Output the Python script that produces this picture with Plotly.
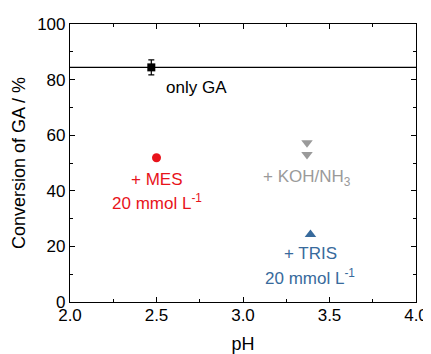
import plotly.graph_objects as go

# data
ga_ph = [2.47]
ga_conv = [84.4]
ga_err = [2.7]
ga_ref_level = 84.4
mes_ph = [2.5]
mes_conv = [51.9]
koh_ph = [3.37, 3.37]
koh_conv = [57.3, 53.1]
tris_ph = [3.39]
tris_conv = [24.3]
x_range = [2.0, 4.0]
y_range = [0, 100]
x_ticks = [2.0, 2.5, 3.0, 3.5, 4.0]
x_ticklabels = ["2.0", "2.5", "3.0", "3.5", "4.0"]
y_ticks = [0, 20, 40, 60, 80, 100]

RED = "#e8131b"
GRAY = "#9a9a9a"
BLUE = "#386a9c"
FONT = "Liberation Sans, Arial, sans-serif"

fig = go.Figure()
fig.add_trace(go.Scatter(x=x_range, y=[ga_ref_level, ga_ref_level], mode="lines",
                         line=dict(color="black", width=1.2), showlegend=False, hoverinfo="skip"))
fig.add_trace(go.Scatter(x=ga_ph, y=ga_conv, mode="markers",
                         marker=dict(symbol="square", size=8, color="black"),
                         error_y=dict(type="data", array=ga_err, color="black", thickness=1.2, width=3),
                         showlegend=False))
fig.add_trace(go.Scatter(x=mes_ph, y=mes_conv, mode="markers",
                         marker=dict(symbol="circle", size=9, color=RED), showlegend=False))
fig.add_trace(go.Scatter(x=koh_ph, y=koh_conv, mode="markers",
                         marker=dict(symbol="triangle-down", size=10, color=GRAY), showlegend=False))
fig.add_trace(go.Scatter(x=tris_ph, y=tris_conv, mode="markers",
                         marker=dict(symbol="triangle-up", size=10, color=BLUE), showlegend=False))

ann = [
    (2.73, 77.0, "only GA", "black"),
    (2.5, 44.0, "+ MES", RED),
    (2.5, 36.1, "20 mmol L<sup>-1</sup>", RED),
    (3.37, 44.7, "+ KOH/NH<sub>3</sub>", GRAY),
    (3.39, 17.3, "+ TRIS", BLUE),
    (3.39, 9.0, "20 mmol L<sup>-1</sup>", BLUE),
]
for x, y, t, c in ann:
    fig.add_annotation(x=x, y=y, text=t, showarrow=False,
                       font=dict(family=FONT, size=17, color=c))

axis_common = dict(showline=True, linecolor="black", linewidth=1.2, mirror="ticks",
                   ticks="inside", ticklen=5, tickwidth=1, tickcolor="black",
                   showgrid=False, zeroline=False, automargin=False,
                   tickfont=dict(family=FONT, size=17, color="black"))
fig.update_xaxes(range=x_range, tickvals=x_ticks, ticktext=x_ticklabels,
                 ticklabelstandoff=-3,
                 minor=dict(ticks="inside", ticklen=3, dtick=0.25, tickcolor="black"),
                 title=dict(text="pH", font=dict(family=FONT, size=18, color="black"), standoff=14),
                 **axis_common)
fig.update_yaxes(range=y_range, tickvals=y_ticks,
                 minor=dict(ticks="inside", ticklen=3, dtick=10, tickcolor="black"),
                 title=dict(text="Conversion of GA / %", font=dict(family=FONT, size=18, color="black"), standoff=6),
                 **axis_common)
# page body has an 8px default margin: size the figure so it fills the 431x354 window
fig.update_layout(width=423, height=346, margin=dict(l=62, r=15, t=16, b=52),
                  plot_bgcolor="white", paper_bgcolor="white")
fig.write_html("out.html")
